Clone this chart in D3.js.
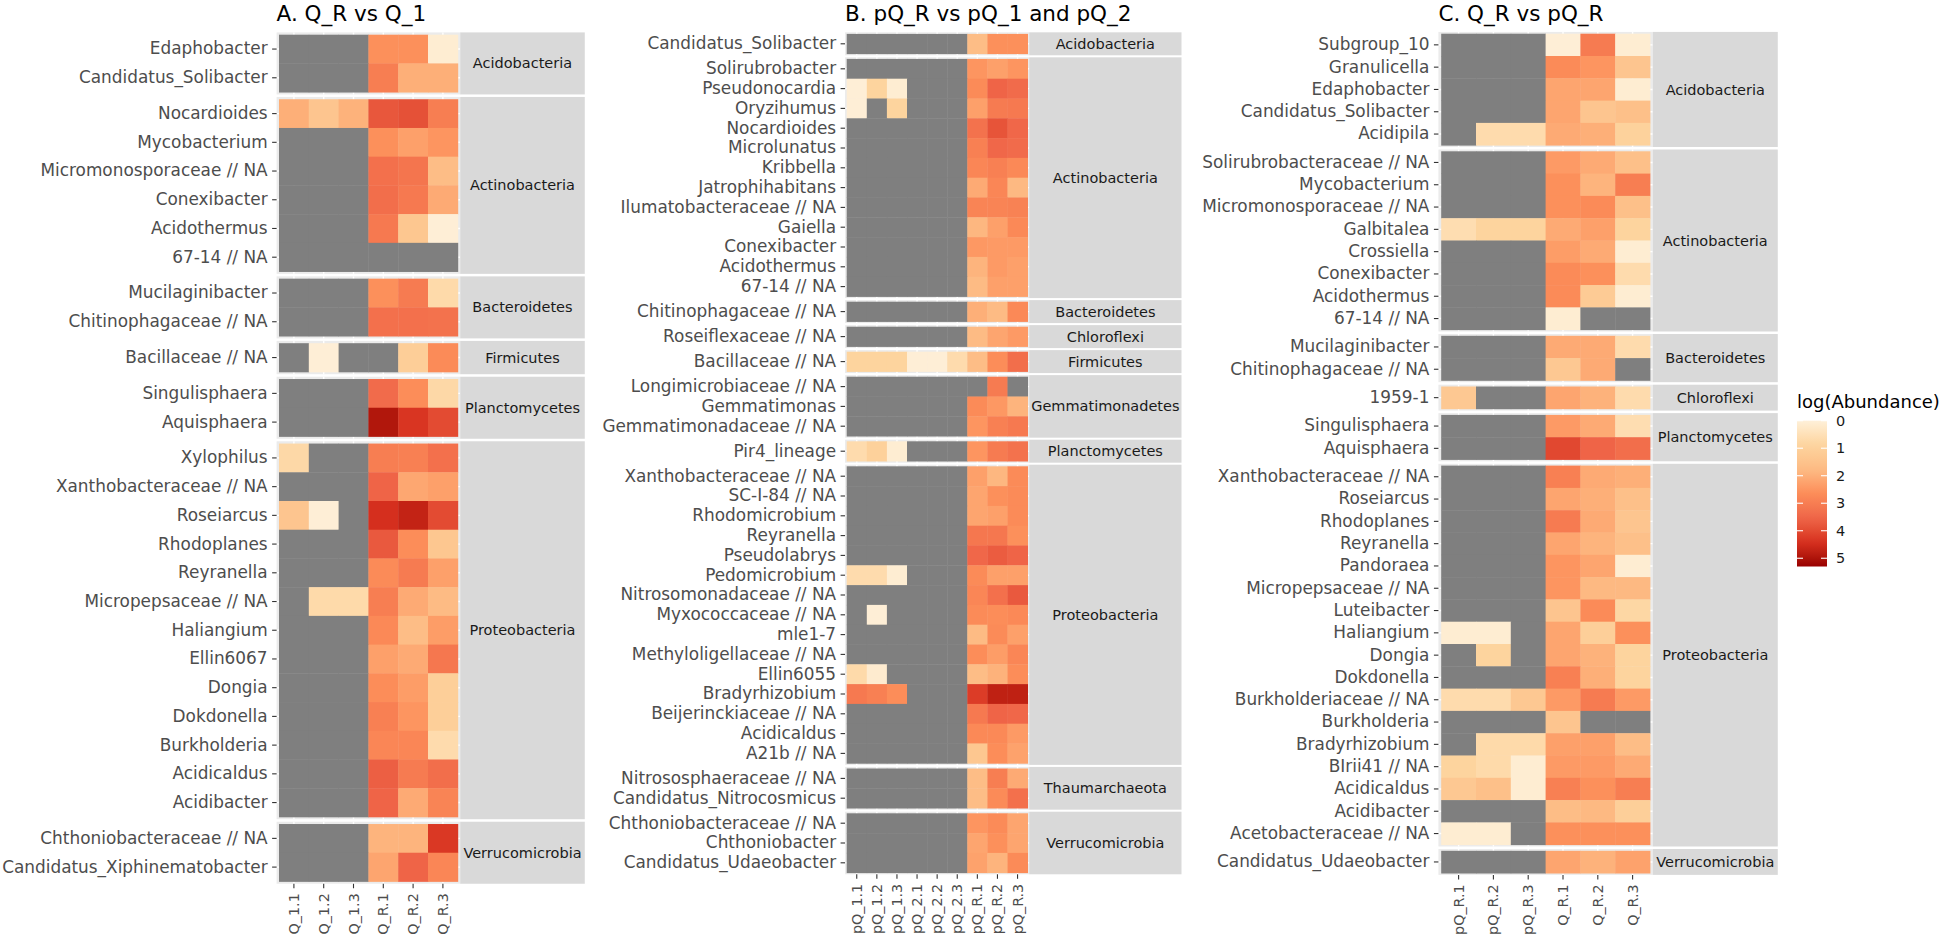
<!DOCTYPE html>
<html><head><meta charset="utf-8">
<script src="https://cdn.jsdelivr.net/npm/d3@7"></script>
<style>body{margin:0;background:#fff}svg{display:block}</style>
</head><body>
<svg id="chart" width="1944" height="937"></svg>
<script>
// ---------------- DATA ----------------
const titleA = "A. Q_R vs Q_1";
const colsA = ["Q_1.1","Q_1.2","Q_1.3","Q_R.1","Q_R.2","Q_R.3"];
const taxaA = [
  ["Acidobacteria","Edaphobacter"],["Acidobacteria","Candidatus_Solibacter"],
  ["Actinobacteria","Nocardioides"],["Actinobacteria","Mycobacterium"],["Actinobacteria","Micromonosporaceae // NA"],
  ["Actinobacteria","Conexibacter"],["Actinobacteria","Acidothermus"],["Actinobacteria","67-14 // NA"],
  ["Bacteroidetes","Mucilaginibacter"],["Bacteroidetes","Chitinophagaceae // NA"],
  ["Firmicutes","Bacillaceae // NA"],
  ["Planctomycetes","Singulisphaera"],["Planctomycetes","Aquisphaera"],
  ["Proteobacteria","Xylophilus"],["Proteobacteria","Xanthobacteraceae // NA"],["Proteobacteria","Roseiarcus"],
  ["Proteobacteria","Rhodoplanes"],["Proteobacteria","Reyranella"],["Proteobacteria","Micropepsaceae // NA"],
  ["Proteobacteria","Haliangium"],["Proteobacteria","Ellin6067"],["Proteobacteria","Dongia"],
  ["Proteobacteria","Dokdonella"],["Proteobacteria","Burkholderia"],["Proteobacteria","Acidicaldus"],
  ["Proteobacteria","Acidibacter"],
  ["Verrucomicrobia","Chthoniobacteraceae // NA"],["Verrucomicrobia","Candidatus_Xiphinematobacter"]
];
const valsA = [
  [null,null,null,2.6,2.6,0.1],
  [null,null,null,3.0,2.0,2.0],
  [2.0,1.4,1.95,3.8,3.9,3.0],
  [null,null,null,2.6,2.3,2.5],
  [null,null,null,3.3,3.2,1.7],
  [null,null,null,3.35,3.1,2.1],
  [null,null,null,3.1,1.35,0.05],
  [null,null,null,null,null,null],
  [null,null,null,2.6,3.05,0.7],
  [null,null,null,3.3,3.3,3.25],
  [null,0.05,null,null,1.1,2.7],
  [null,null,null,3.4,2.65,0.75],
  [null,null,null,4.95,4.35,4.0],
  [0.75,null,null,3.0,2.95,3.3],
  [null,null,null,3.55,2.15,2.3],
  [1.4,0.05,null,4.45,4.7,4.0],
  [null,null,null,3.75,2.65,1.35],
  [null,null,null,2.7,3.05,2.3],
  [null,0.7,0.7,3.0,2.1,1.75],
  [null,null,null,2.75,1.7,2.35],
  [null,null,null,2.3,2.1,3.15],
  [null,null,null,2.65,2.35,1.05],
  [null,null,null,2.95,2.5,1.05],
  [null,null,null,2.8,2.8,0.65],
  [null,null,null,3.65,3.05,3.35],
  [null,null,null,3.55,2.1,2.85],
  [null,null,null,1.9,1.9,4.3],
  [null,null,null,2.2,3.55,2.8]
];

const titleB = "B. pQ_R vs pQ_1 and pQ_2";
const colsB = ["pQ_1.1","pQ_1.2","pQ_1.3","pQ_2.1","pQ_2.2","pQ_2.3","pQ_R.1","pQ_R.2","pQ_R.3"];
const taxaB = [
  ["Acidobacteria","Candidatus_Solibacter"],
  ["Actinobacteria","Solirubrobacter"],["Actinobacteria","Pseudonocardia"],["Actinobacteria","Oryzihumus"],
  ["Actinobacteria","Nocardioides"],["Actinobacteria","Microlunatus"],["Actinobacteria","Kribbella"],
  ["Actinobacteria","Jatrophihabitans"],["Actinobacteria","Ilumatobacteraceae // NA"],["Actinobacteria","Gaiella"],
  ["Actinobacteria","Conexibacter"],["Actinobacteria","Acidothermus"],["Actinobacteria","67-14 // NA"],
  ["Bacteroidetes","Chitinophagaceae // NA"],
  ["Chloroflexi","Roseiflexaceae // NA"],
  ["Firmicutes","Bacillaceae // NA"],
  ["Gemmatimonadetes","Longimicrobiaceae // NA"],["Gemmatimonadetes","Gemmatimonas"],["Gemmatimonadetes","Gemmatimonadaceae // NA"],
  ["Planctomycetes","Pir4_lineage"],
  ["Proteobacteria","Xanthobacteraceae // NA"],["Proteobacteria","SC-I-84 // NA"],["Proteobacteria","Rhodomicrobium"],
  ["Proteobacteria","Reyranella"],["Proteobacteria","Pseudolabrys"],["Proteobacteria","Pedomicrobium"],
  ["Proteobacteria","Nitrosomonadaceae // NA"],["Proteobacteria","Myxococcaceae // NA"],["Proteobacteria","mle1-7"],
  ["Proteobacteria","Methyloligellaceae // NA"],["Proteobacteria","Ellin6055"],["Proteobacteria","Bradyrhizobium"],
  ["Proteobacteria","Beijerinckiaceae // NA"],["Proteobacteria","Acidicaldus"],["Proteobacteria","A21b // NA"],
  ["Thaumarchaeota","Nitrososphaeraceae // NA"],["Thaumarchaeota","Candidatus_Nitrocosmicus"],
  ["Verrucomicrobia","Chthoniobacteraceae // NA"],["Verrucomicrobia","Chthoniobacter"],["Verrucomicrobia","Candidatus_Udaeobacter"]
];
const valsB = [
  [null,null,null,null,null,null,1.7,2.6,2.6],
  [null,null,null,null,null,null,2.5,2.3,2.5],
  [0.05,0.9,0.1,null,null,null,2.7,3.55,3.4],
  [0.05,null,0.9,null,null,null,2.3,3.05,3.1],
  [null,null,null,null,null,null,3.25,3.85,3.5],
  [null,null,null,null,null,null,2.95,3.5,3.4],
  [null,null,null,null,null,null,2.8,2.95,2.75],
  [null,null,null,null,null,null,2.1,2.8,1.8],
  [null,null,null,null,null,null,2.85,2.85,2.9],
  [null,null,null,null,null,null,1.85,2.3,2.75],
  [null,null,null,null,null,null,2.45,2.4,2.4],
  [null,null,null,null,null,null,1.9,2.4,2.3],
  [null,null,null,null,null,null,1.75,2.3,2.3],
  [null,null,null,null,null,null,2.0,1.75,2.75],
  [null,null,null,null,null,null,1.75,2.2,2.4],
  [0.9,0.9,0.9,0.05,0.05,0.65,1.7,2.65,3.35],
  [null,null,null,null,null,null,null,3.05,null],
  [null,null,null,null,null,null,2.7,2.45,1.9],
  [null,null,null,null,null,null,2.5,2.95,3.1],
  [0.65,1.0,0.1,null,null,null,2.5,3.05,3.25],
  [null,null,null,null,null,null,2.3,1.85,2.7],
  [null,null,null,null,null,null,2.2,2.6,2.7],
  [null,null,null,null,null,null,2.2,2.3,2.7],
  [null,null,null,null,null,null,3.15,3.15,2.6],
  [null,null,null,null,null,null,3.5,3.7,3.55],
  [0.65,0.65,0.1,null,null,null,2.7,2.3,2.3],
  [null,null,null,null,null,null,2.8,3.3,3.75],
  [null,0.05,null,null,null,null,2.7,2.65,2.75],
  [null,null,null,null,null,null,1.75,2.7,2.3],
  [null,null,null,null,null,null,2.65,2.35,2.8],
  [0.7,0.15,null,null,null,null,1.7,1.95,2.65],
  [3.1,2.95,2.65,null,null,null,4.25,4.75,4.75],
  [null,null,null,null,null,null,3.1,3.55,3.5],
  [null,null,null,null,null,null,2.75,2.75,2.4],
  [null,null,null,null,null,null,1.35,2.65,2.25],
  [null,null,null,null,null,null,1.7,3.0,2.1],
  [null,null,null,null,null,null,1.7,2.7,3.3],
  [null,null,null,null,null,null,2.5,2.7,2.2],
  [null,null,null,null,null,null,2.2,2.6,2.2],
  [null,null,null,null,null,null,2.25,1.9,2.7]
];

const titleC = "C. Q_R vs pQ_R";
const colsC = ["pQ_R.1","pQ_R.2","pQ_R.3","Q_R.1","Q_R.2","Q_R.3"];
const taxaC = [
  ["Acidobacteria","Subgroup_10"],["Acidobacteria","Granulicella"],["Acidobacteria","Edaphobacter"],
  ["Acidobacteria","Candidatus_Solibacter"],["Acidobacteria","Acidipila"],
  ["Actinobacteria","Solirubrobacteraceae // NA"],["Actinobacteria","Mycobacterium"],["Actinobacteria","Micromonosporaceae // NA"],
  ["Actinobacteria","Galbitalea"],["Actinobacteria","Crossiella"],["Actinobacteria","Conexibacter"],
  ["Actinobacteria","Acidothermus"],["Actinobacteria","67-14 // NA"],
  ["Bacteroidetes","Mucilaginibacter"],["Bacteroidetes","Chitinophagaceae // NA"],
  ["Chloroflexi","1959-1"],
  ["Planctomycetes","Singulisphaera"],["Planctomycetes","Aquisphaera"],
  ["Proteobacteria","Xanthobacteraceae // NA"],["Proteobacteria","Roseiarcus"],["Proteobacteria","Rhodoplanes"],
  ["Proteobacteria","Reyranella"],["Proteobacteria","Pandoraea"],["Proteobacteria","Micropepsaceae // NA"],
  ["Proteobacteria","Luteibacter"],["Proteobacteria","Haliangium"],["Proteobacteria","Dongia"],
  ["Proteobacteria","Dokdonella"],["Proteobacteria","Burkholderiaceae // NA"],["Proteobacteria","Burkholderia"],
  ["Proteobacteria","Bradyrhizobium"],["Proteobacteria","BIrii41 // NA"],["Proteobacteria","Acidicaldus"],
  ["Proteobacteria","Acidibacter"],["Proteobacteria","Acetobacteraceae // NA"],
  ["Verrucomicrobia","Candidatus_Udaeobacter"]
];
const valsC = [
  [null,null,null,0.05,3.05,0.1],
  [null,null,null,2.7,2.5,1.4],
  [null,null,null,2.2,2.2,0.1],
  [null,null,null,2.2,1.4,1.6],
  [null,0.65,0.65,2.1,2.0,0.95],
  [null,null,null,2.4,2.1,1.6],
  [null,null,null,2.6,1.9,3.0],
  [null,null,null,2.6,2.7,1.6],
  [0.6,0.9,0.9,2.1,2.3,0.9],
  [null,null,null,2.35,2.1,0.1],
  [null,null,null,2.7,2.6,0.65],
  [null,null,null,2.7,1.2,0.1],
  [null,null,null,0.1,null,null],
  [null,null,null,2.1,2.1,0.65],
  [null,null,null,1.3,2.1,null],
  [1.3,null,null,2.2,1.95,0.65],
  [null,null,null,2.4,2.1,0.6],
  [null,null,null,4.05,3.55,3.35],
  [null,null,null,2.95,2.1,2.0],
  [null,null,null,2.2,2.0,1.6],
  [null,null,null,3.05,2.1,1.4],
  [null,null,null,2.2,1.9,1.6],
  [null,null,null,2.5,2.2,0.1],
  [null,null,null,2.5,1.8,1.8],
  [null,null,null,1.4,2.7,0.8],
  [0.1,0.1,null,2.2,1.05,2.6],
  [null,0.9,null,2.2,1.95,0.9],
  [null,null,null,2.95,2.0,0.9],
  [0.65,0.65,1.3,2.4,3.05,2.4],
  [null,null,null,1.4,null,null],
  [null,0.7,0.7,2.3,2.3,1.7],
  [0.9,0.7,0.1,2.4,2.4,2.1],
  [1.3,1.6,0.1,2.95,2.6,3.0],
  [null,null,null,1.7,1.8,1.05],
  [0.1,0.1,null,2.6,2.6,2.6],
  [null,null,null,2.2,1.95,2.25]
];

const legendTitle = "log(Abundance)";
const legendTicks = [0,1,2,3,4,5];
const fillDomain = [0, 5.3];
const orrd7 = ["#fef0d9","#fdd49e","#fdbb84","#fc8d59","#ef6548","#d7301f","#990000"];

// ---------------- LAYOUT ----------------
const FONT = "'DejaVu Sans', Verdana, sans-serif";
const NA_COLOR = "#7f7f7f";
const layouts = [
  {title:titleA, cols:colsA, taxa:taxaA, vals:valsA, x0:279, colW:29.8, y0:34.7, rowH:28.72, gap:7.1, stripW:124.6},
  {title:titleB, cols:colsB, taxa:taxaB, vals:valsB, x0:846.7, colW:20.1, y0:33.9, rowH:19.8, gap:5.2, stripW:152.3},
  {title:titleC, cols:colsC, taxa:taxaC, vals:valsC, x0:1441.2, colW:34.8, y0:33.7, rowH:22.3, gap:6.1, stripW:125}
];

const svg = d3.select("#chart");
svg.append("rect").attr("width",1944).attr("height",937).attr("fill","#fff");

const fill = d3.scaleLinear()
  .domain(orrd7.map((c,i) => fillDomain[0] + i*(fillDomain[1]-fillDomain[0])/(orrd7.length-1)))
  .range(orrd7).interpolate(d3.interpolateLab).clamp(true);

function drawPanel(p) {
  const g = svg.append("g");
  const padX = p.colW*0.08, padY = p.rowH*0.08;
  const x = d3.scaleBand().domain(p.cols).range([p.x0, p.x0 + p.cols.length*p.colW]).padding(0);
  const bgL = p.x0 - padX, bgR = p.x0 + p.cols.length*p.colW + padX;
  const rowsAll = p.taxa.map((t,i) => ({phylum:t[0], name:t[1], vals:p.vals[i]}));
  const groups = d3.groups(rowsAll, d => d.phylum);
  let top = p.y0;
  groups.forEach(([phylum, rows]) => {
    const h = rows.length*p.rowH;
    const y = d3.scaleBand().domain(rows.map(r => r.name)).range([top, top+h]).padding(0);
    const fg = g.append("g");
    fg.append("rect").attr("x",bgL).attr("y",top-padY).attr("width",bgR-bgL).attr("height",h+2*padY).attr("fill","#ebebeb");
    fg.selectAll("line.vg").data(p.cols).join("line")
      .attr("x1",d => x(d)+x.bandwidth()/2).attr("x2",d => x(d)+x.bandwidth()/2)
      .attr("y1",top-padY).attr("y2",top+h+padY).attr("stroke","#fff").attr("stroke-width",1.4);
    fg.selectAll("line.hg").data(rows).join("line")
      .attr("y1",d => y(d.name)+y.bandwidth()/2).attr("y2",d => y(d.name)+y.bandwidth()/2)
      .attr("x1",bgL).attr("x2",bgR).attr("stroke","#fff").attr("stroke-width",1.4);
    const cells = [];
    rows.forEach(r => r.vals.forEach((v,j) => cells.push({name:r.name, col:p.cols[j], v})));
    fg.selectAll("rect.tile").data(cells).join("rect").attr("class","tile")
      .attr("x",d => x(d.col)).attr("y",d => y(d.name))
      .attr("width",x.bandwidth()+0.4).attr("height",y.bandwidth()+0.4)
      .attr("fill",d => d.v==null ? NA_COLOR : fill(d.v));
    // strip
    fg.append("rect").attr("x",bgR).attr("y",top-padY).attr("width",p.stripW).attr("height",h+2*padY).attr("fill","#d9d9d9");
    fg.append("text").attr("x",bgR+p.stripW/2).attr("y",top+h/2).attr("dy","0.35em")
      .attr("text-anchor","middle").attr("font-family",FONT).attr("font-size",14.5).attr("fill","#1a1a1a").text(phylum);
    // y axis
    const ax = fg.append("g").attr("transform",`translate(${bgL},0)`)
      .call(d3.axisLeft(y).tickSize(4.5).tickPadding(4.5));
    ax.select(".domain").remove();
    ax.selectAll("line").attr("stroke","#333").attr("stroke-width",1.1);
    ax.selectAll("text").attr("font-family",FONT).attr("font-size",16.9).attr("fill","#4d4d4d");
    top += h + p.gap;
  });
  const bottom = top - p.gap + padY;
  const xa = g.append("g").attr("transform",`translate(0,${bottom})`).call(d3.axisBottom(x).tickSize(4.5).tickPadding(4));
  xa.select(".domain").remove();
  xa.selectAll("line").attr("stroke","#333").attr("stroke-width",1.1);
  xa.selectAll("text").attr("font-family",FONT).attr("font-size",14.3).attr("fill","#4d4d4d")
    .attr("transform","rotate(-90)").attr("text-anchor","end")
    .attr("x",-9.5).attr("y",0).attr("dy","0.35em");
  // title
  g.append("text").attr("x",bgL).attr("y",20.5).attr("font-family",FONT).attr("font-size",21.5)
    .attr("fill","#000").text(p.title);
}
layouts.forEach(drawPanel);

// ---------------- LEGEND ----------------
const lg = svg.append("g");
const barX = 1797, barW = 30;
const ly = d3.scaleLinear().domain(fillDomain).range([420.7, 566.5]);
const defs = svg.append("defs");
const grad = defs.append("linearGradient").attr("id","lgrad").attr("x1",0).attr("y1",0).attr("x2",0).attr("y2",1);
d3.range(0,1.0001,0.05).forEach(t => grad.append("stop").attr("offset",t)
  .attr("stop-color",fill(fillDomain[0]+t*(fillDomain[1]-fillDomain[0]))));
lg.append("rect").attr("x",barX).attr("y",ly(fillDomain[0])).attr("width",barW)
  .attr("height",ly(fillDomain[1])-ly(fillDomain[0])).attr("fill","url(#lgrad)");
lg.selectAll("line.tl").data(legendTicks).join("line")
  .attr("x1",barX).attr("x2",barX+barW/5).attr("y1",d=>ly(d)).attr("y2",d=>ly(d)).attr("stroke","#fff").attr("stroke-width",1.1);
lg.selectAll("line.tr").data(legendTicks).join("line")
  .attr("x1",barX+barW*4/5).attr("x2",barX+barW).attr("y1",d=>ly(d)).attr("y2",d=>ly(d)).attr("stroke","#fff").attr("stroke-width",1.1);
lg.selectAll("text.lab").data(legendTicks).join("text")
  .attr("x",barX+barW+9).attr("y",d=>ly(d)).attr("dy","0.35em")
  .attr("font-family",FONT).attr("font-size",14.5).attr("fill","#1a1a1a").text(d=>d);
lg.append("text").attr("x",barX).attr("y",408).attr("font-family",FONT).attr("font-size",18)
  .attr("fill","#000").text(legendTitle);
</script>
</body></html>
